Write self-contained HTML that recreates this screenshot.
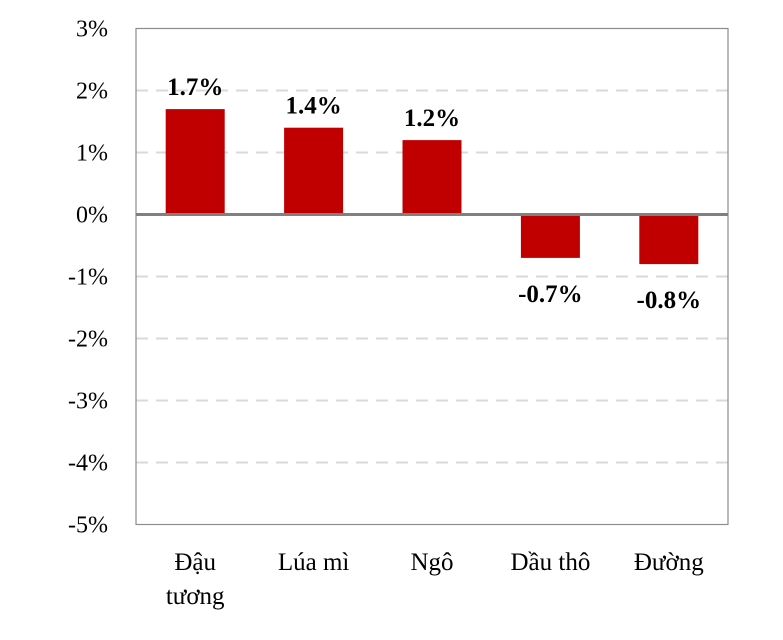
<!DOCTYPE html>
<html><head><meta charset="utf-8"><style>
body{margin:0;background:#fff;}
svg text{font-family:"Liberation Serif",serif;}
</style></head><body>
<svg width="783" height="635">
<g id="grid"></g><g id="bars"></g><g id="labels"></g>
</svg>
<script>
const categories=[["Đậu","tương"],["Lúa mì"],["Ngô"],["Dầu thô"],["Đường"]];
const values=[1.7,1.4,1.2,-0.7,-0.8];
const valueLabels=["1.7%","1.4%","1.2%","-0.7%","-0.8%"];
const ticks=[3,2,1,0,-1,-2,-3,-4,-5];
const tickLabels=["3%","2%","1%","0%","-1%","-2%","-3%","-4%","-5%"];
const L=136,R=728,T=28.5,B=524.5,ymax=3,ymin=-5;
const y=v=>T+(ymax-v)/(ymax-ymin)*(B-T);
const bw=(R-L)/categories.length;
const NS="http://www.w3.org/2000/svg";
const svg=document.querySelector('svg');
function mk(tag,attrs,parent){const e=document.createElementNS(NS,tag);for(const k in attrs)e.setAttribute(k,attrs[k]);(parent||svg).appendChild(e);return e;}
const grid=document.getElementById('grid');
ticks.forEach((t,i)=>{
  if(t!==0&&t!==ymax&&t!==ymin){const g=mk('line',{x1:L,x2:R,y1:y(t),y2:y(t),stroke:'#d9d9d9','stroke-width':2,'stroke-dasharray':'12,8'},grid);
  
  }
  const tx=mk('text',{x:108,y:y(t)+8,'text-anchor':'end','font-size':24},grid);
  tx.textContent=tickLabels[i];
  
  
});
const frame=mk('rect',{x:L,y:T,width:R-L,height:B-T,fill:'none',stroke:'#8c8c8c','stroke-width':1.2},grid);


const bars=document.getElementById('bars'),labs=document.getElementById('labels');
values.forEach((v,i)=>{
  const cx=L+bw*(i+0.5),w=59;
  const b=mk('rect',{x:cx-w/2,y:Math.min(y(v),y(0)),width:w,height:Math.abs(y(v)-y(0)),fill:'#c00000'},bars);
  
  
  const ly=v>=0?y(v)-14:y(v)+44;
  const t=mk('text',{x:cx,y:ly,'text-anchor':'middle','font-size':25,'font-weight':'bold'},labs);
  t.textContent=valueLabels[i];
  
  
  categories[i].forEach((line,j)=>{
    const c=mk('text',{x:cx,y:570+j*34,'text-anchor':'middle','font-size':25},labs);
    c.textContent=line;
    
    
  });
});
const z=mk('line',{x1:L,x2:R,y1:y(0),y2:y(0),stroke:'#808080','stroke-width':3});


</script>
</body></html>
